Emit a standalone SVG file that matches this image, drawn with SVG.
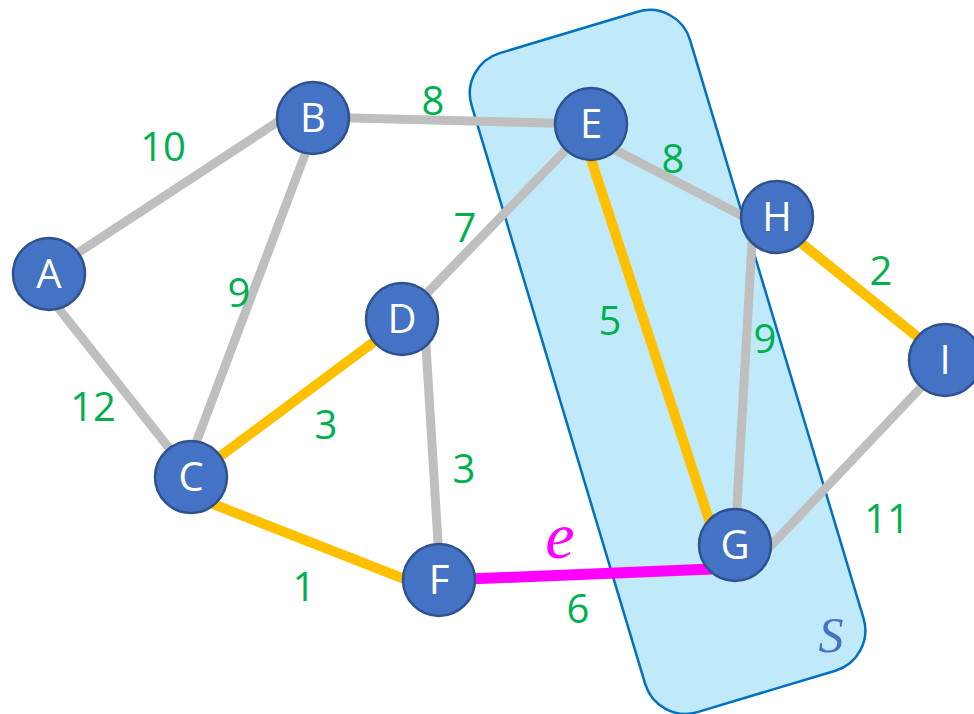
<svg xmlns="http://www.w3.org/2000/svg" width="974" height="714" viewBox="0 0 974 714">
<style>
.e{stroke-linecap:butt;fill:none}
.g{stroke:#BFBFBF;stroke-width:9}
.o{stroke:#FFC000;stroke-width:10}
.m{stroke:#FF00FF;stroke-width:11}
.n circle{fill:#4472C4;stroke:#2F528F;stroke-width:2.5}
.n text{fill:#FFFFFF;font-family:"Open Sans","Noto Sans",sans-serif;font-size:40px;text-anchor:middle}
.w{fill:#00B050;font-family:"Open Sans","Noto Sans",sans-serif;font-size:40px;text-anchor:middle}
</style>
<g id="set-S">
<rect x="-114" y="-342" width="228" height="688" rx="42" transform="translate(667,360) rotate(-16.7)" fill="#C0E9F9" stroke="#0070C0" stroke-width="2.5"/>
<text x="831" y="652" fill="#4472C4" font-family="Liberation Serif, serif" font-style="italic" font-size="50" text-anchor="middle">S</text>
</g>
<g id="connectors">
<line class="e g" x1="70" y1="258" x2="285" y2="117"/>
<line class="e g" x1="52" y1="300" x2="188" y2="472"/>
<line class="e g" x1="318" y1="120" x2="185" y2="472"/>
<line class="e g" x1="313" y1="117" x2="591" y2="124"/>
<line class="e g" x1="591" y1="124" x2="402" y2="319"/>
<line class="e g" x1="600" y1="142" x2="760" y2="225"/>
<line class="e g" x1="753" y1="225" x2="735" y2="540"/>
<line class="e g" x1="945" y1="362" x2="765" y2="552"/>
<line class="e g" x1="425" y1="330" x2="440" y2="575"/>
<line class="e o" x1="785" y1="230" x2="935" y2="351"/>
<line class="e o" x1="191" y1="478" x2="402" y2="321"/>
<line class="e o" x1="195" y1="497" x2="430" y2="589"/>
<line class="e o" x1="588" y1="150" x2="714" y2="535"/>
<line class="e m" x1="445" y1="580" x2="712" y2="569"/>
<text class="w" x="163" y="161">10</text>
<text class="w" x="433" y="115">8</text>
<text class="w" x="673" y="173">8</text>
<text class="w" x="465" y="242">7</text>
<text class="w" x="239" y="307">9</text>
<text class="w" x="93" y="421">12</text>
<text class="w" x="610" y="335">5</text>
<text class="w" x="765" y="353">9</text>
<text class="w" x="881" y="285">2</text>
<text class="w" x="326" y="439">3</text>
<text class="w" x="464" y="483">3</text>
<text class="w" x="304" y="601">1</text>
<text class="w" x="578" y="623">6</text>
<text class="w" x="887" y="533">11</text>
<text x="560" y="558" fill="#FF00FF" font-family="Liberation Serif, serif" font-style="italic" font-size="66" text-anchor="middle">e</text>
</g>
<g id="node-A" class="n"><circle cx="49" cy="274" r="36"/><text x="49" y="288">A</text></g>
<g id="node-B" class="n"><circle cx="313" cy="118" r="36"/><text x="313" y="132">B</text></g>
<g id="node-E" class="n"><circle cx="591" cy="124" r="36"/><text x="591" y="138">E</text></g>
<g id="node-H" class="n"><circle cx="777" cy="217" r="36"/><text x="777" y="231">H</text></g>
<g id="node-I" class="n"><circle cx="945" cy="360" r="36"/><text x="945" y="374">I</text></g>
<g id="node-D" class="n"><circle cx="402" cy="319" r="36"/><text x="402" y="333">D</text></g>
<g id="node-C" class="n"><circle cx="191" cy="477" r="36"/><text x="191" y="491">C</text></g>
<g id="node-F" class="n"><circle cx="439" cy="580" r="36"/><text x="439" y="594">F</text></g>
<g id="node-G" class="n"><circle cx="735" cy="545" r="36"/><text x="735" y="559">G</text></g>
</svg>
